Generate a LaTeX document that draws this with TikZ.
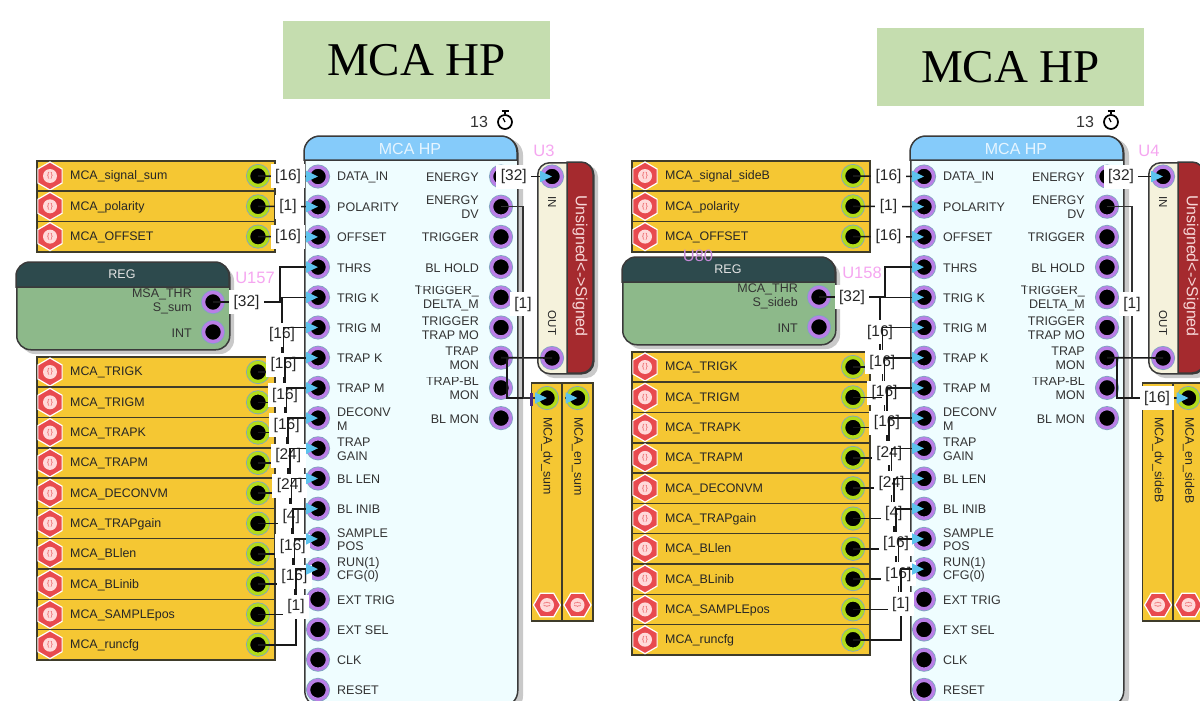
\documentclass[tikz,border=0pt]{standalone}
\usepackage{fontspec}
\setmainfont{Liberation Sans}
\newfontfamily\bannerfont{Liberation Serif}
\usetikzlibrary{arrows.meta,shapes.geometric}
\definecolor{banner}{HTML}{C5DDAF}
\definecolor{srcfill}{HTML}{F5C733}
\definecolor{srcline}{HTML}{3F3C2A}
\definecolor{hexred}{HTML}{E84A4F}
\definecolor{hexpale}{HTML}{FFDADA}
\definecolor{pinpurple}{HTML}{B97FE6}
\definecolor{pinlime}{HTML}{B2DC1A}
\definecolor{pinhalo}{HTML}{7FA6C0}
\definecolor{tipblue}{HTML}{5CC3EE}
\definecolor{hpheader}{HTML}{85CBFA}
\definecolor{hpbody}{HTML}{EFFDFF}
\definecolor{hptitle}{HTML}{E6F5FF}
\definecolor{blockline}{HTML}{3A3A3A}
\definecolor{dropgray}{HTML}{C9C9C9}
\definecolor{regtop}{HTML}{2D4A4D}
\definecolor{regbody}{HTML}{8DB98A}
\definecolor{convbody}{HTML}{F5F2DC}
\definecolor{convred}{HTML}{A52A2E}
\definecolor{convtext}{HTML}{F7D8D8}
\definecolor{unitpink}{HTML}{F5A6F0}
\definecolor{unitdim}{HTML}{C58AD8}
\definecolor{barpurple}{HTML}{4A2A80}
\tikzset{
  bannerbox/.style={fill=banner,minimum width=267pt,minimum height=78pt,inner sep=0pt,
    font=\bannerfont\fontsize{47}{50}\selectfont},
  srcbox/.style={draw=srcline,fill=srcfill,line width=1.5pt,minimum width=238pt,minimum height=30.3pt,inner sep=0pt},
  srctext/.style={anchor=west,inner sep=0pt,text=black!85,font=\fontsize{12.4}{14}\selectfont},
  sinkbox/.style={draw=srcline,fill=srcfill,line width=1.5pt,minimum width=31pt,minimum height=238pt,inner sep=0pt},
  sinktext/.style={srctext,rotate=-90},
  hexrim/.style={regular polygon,regular polygon sides=6,shape border rotate=30,minimum size=28pt,inner sep=0pt,
    fill=hexred,draw=white,line width=1.2pt},
  hexflat/.style={hexrim,shape border rotate=0},
  hexdot/.style={circle,fill=hexpale,minimum size=14pt,inner sep=0pt,text=hexred,font=\fontsize{7}{8}\selectfont},
  pinring/.style={circle,fill=black,minimum size=19pt,inner sep=0pt,line width=3.4pt,
    preaction={draw=pinhalo,line width=5pt}},
  purplepin/.style={pinring,draw=pinpurple},
  greenpin/.style={pinring,draw=pinlime},
  pintext/.style={inner sep=0pt,yshift=-0.7pt,text=black!80,align=left,font=\fontsize{12.5}{13.8}\selectfont},
  pintextr/.style={pintext,align=right,anchor=east},
  wire/.style={line width=1.6pt,draw=black!90},
  thinwire/.style={line width=1.1pt,draw=black!80},
  intip/.style={-{Triangle[length=12pt,width=11pt,color=tipblue]}},
  buslabel/.style={fill=white,inner xsep=4.5pt,inner ysep=0pt,minimum height=24pt,text=black!85,
    font=\fontsize{15.5}{16}\selectfont},
  unitname/.style={inner sep=0pt,text=unitpink,font=\fontsize{16.5}{18}\selectfont},
  hpcase/.style={draw=blockline,fill=hpbody,line width=1.5pt,rounded corners=16pt,anchor=north west,
    minimum width=213pt,minimum height=570pt},
  regcase/.style={draw=blockline,fill=regbody,line width=1.5pt,rounded corners=14pt,anchor=north west,
    minimum width=213pt,minimum height=87pt},
  convcase/.style={draw=blockline,fill=convbody,line width=1.5pt,rounded corners=12pt,anchor=north west,
    minimum width=56pt,minimum height=211pt},
}
\begin{document}
\begin{tikzpicture}[x=1pt,y=-1pt]
  \useasboundingbox (0,0) rectangle (1200,701);
  \clip (0,0) rectangle (1200,701);
  \def\srcrow#1#2#3{
    \node[srcbox] (#1-box) at ({156+\src},{#2}) {};
    \node[hexrim] (#1-hex) at ({50+\src},{#2}) {};
    \node[hexdot] (#1-dot) at (#1-hex) {\{\,\}};
    \node[srctext,yshift=-0.7pt] (#1-txt) at ({70+\src},{#2}) {#3};
    \node[greenpin] (#1-pin) at ({258+\src},{#2}) {};
  }
  % titles
  \node[bannerbox] (a-title) at (416.5,60) {\raisebox{-2pt}{MCA HP}};
  \node[bannerbox] (b-title) at (1010.5,67) {\raisebox{-2pt}{MCA HP}};
  \foreach \side/\dx/\src/\conv/\regdy/\lowy/\busx/\busstep/\thrx/\tail/\regtxt in {
      a/0/0/0/0/372/282/1.55/280/sum/{MSA\_THR\\S\_sum},
      b/606/595/611/-5/367/880/2.3/885/sideB/{MCA\_THR\\S\_sideb}}{
    % hp block
    \fill[dropgray,rounded corners=16pt] ({310+\dx},139) rectangle ({523+\dx},712);
    \node[hpcase] (\side-hp) at ({304+\dx},136) {};
    \draw[blockline,fill=hpheader,line width=1.5pt] ({304+\dx},160) [rounded corners=16pt] -- ({304+\dx},136) -- ({517+\dx},136) [sharp corners] -- ({517+\dx},160) -- cycle;
    \node[inner sep=0pt,text=hptitle,font=\fontsize{16}{18}\selectfont] (\side-hpname) at ({410+\dx},149) {MCA HP};
    \node[inner sep=0pt,font=\fontsize{16}{18}\selectfont,text=black!80] (\side-cnt) at ({479+\dx},122) {13};
    \node[circle,draw=black,line width=1.7pt,minimum size=14pt,inner sep=0pt] (\side-watch) at ({505+\dx},122) {};
    \draw[line width=1.7pt] (\side-watch.north) -- ++(0,-3) ++(-3.5,0) -- ++(7,0);
    \draw[line width=1.2pt] (\side-watch.center) -- ++(-2,-4);
    \foreach \lbl [count=\i from 0] in {DATA\_IN,POLARITY,OFFSET,THRS,TRIG K,TRIG M,TRAP K,TRAP M,{DECONV\\M},{TRAP\\GAIN},BL LEN,BL INIB,{SAMPLE\\POS},{RUN(1)\\CFG(0)},EXT TRIG,EXT SEL,CLK,RESET}{
      \node[purplepin] (\side-in-\i) at ({318+\dx},{176.5+30.2*\i}) {};
      \node[pintext,anchor=west] (\side-intxt-\i) at ({337+\dx},{176.5+30.2*\i}) {\lbl};
    }
    \foreach \lbl [count=\i from 0] in {ENERGY,{ENERGY\\DV},TRIGGER,BL HOLD,{TRIGGER\_\\DELTA\_M},{TRIGGER\\TRAP MO},{TRAP\\MON},{TRAP-BL\\MON},BL MON}{
      \node[purplepin] (\side-out-\i) at ({501+\dx},{176.5+30.2*\i}) {};
      \node[pintextr] (\side-outtxt-\i) at ({479+\dx},{176.5+30.2*\i}) {\lbl};
    }
    % cut tops of the two line names
    \foreach \yy in {188,279,370}{
      \fill[hpbody] ({420+\dx},\yy) rectangle ({482+\dx},{\yy+7});
    }
    % sources
    \srcrow{\side-top-0}{176}{MCA\_signal\_\tail}
    \srcrow{\side-top-1}{206.3}{MCA\_polarity}
    \srcrow{\side-top-2}{236.6}{MCA\_OFFSET}
    \foreach \lbl [count=\i from 0] in {MCA\_TRIGK,MCA\_TRIGM,MCA\_TRAPK,MCA\_TRAPM,MCA\_DECONVM,MCA\_TRAPgain,MCA\_BLlen,MCA\_BLinib,MCA\_SAMPLEpos,MCA\_runcfg}{
      \srcrow{\side-low-\i}{\lowy+30.3*\i}{\lbl}
    }
    % reg
    \fill[dropgray,rounded corners=14pt] ({21+\dx},{267+\regdy}) rectangle ({234+\dx},{354+\regdy});
    \node[regcase] (\side-reg) at ({16+\dx},{262+\regdy}) {};
    \node[pintextr] (\side-regtxt-0) at ({192+\dx},{300.5+\regdy}) {\regtxt};
    \node[pintextr] (\side-regtxt-1) at ({192+\dx},{332+\regdy}) {INT};
    \draw[blockline,fill=regtop,line width=1.5pt] ({16+\dx},{287+\regdy}) [rounded corners=14pt] -- ({16+\dx},{262+\regdy}) -- ({229+\dx},{262+\regdy}) [sharp corners] -- ({229+\dx},{287+\regdy}) -- cycle;
    \node[inner sep=0pt,text=white!90!black,font=\fontsize{12.5}{14}\selectfont] (\side-regname) at ({122+\dx},{274+\regdy}) {REG};
    \node[purplepin] (\side-regpin-0) at ({213+\dx},{302+\regdy}) {};
    \node[purplepin] (\side-regpin-1) at ({213+\dx},{332+\regdy}) {};
    % unsigned converter
    \fill[dropgray,rounded corners=12pt] ({542+\conv},165) rectangle ({598+\conv},378);
    \node[convcase] (\side-conv) at ({537+\conv},162) {};
    \draw[blockline,fill=convred,line width=1.5pt] ({567+\conv},162) [rounded corners=12pt] -- ({593+\conv},162) -- ({593+\conv},373) [sharp corners] -- ({567+\conv},373) -- cycle;
    \node[inner sep=0pt,rotate=-90,text=convtext,font=\fontsize{16}{18}\selectfont] (\side-convname) at ({580+\conv},266) {Unsigned<->Signed};
    \node[inner sep=0pt,rotate=-90,text=black!85,font=\fontsize{11.5}{13}\selectfont] (\side-intxt) at ({552+\conv},202) {IN};
    \node[inner sep=0pt,rotate=-90,text=black!85,font=\fontsize{11.5}{13}\selectfont] (\side-outtxt) at ({552+\conv},323) {OUT};
    \node[purplepin] (\side-convin) at ({552+\conv},176.5) {};
    \node[purplepin] (\side-convout) at ({552+\conv},358) {};
    % sinks
    \foreach \sink/\x in {dv/547,en/577.5}{
      \node[sinkbox] (\side-\sink) at ({\x+\conv},502) {};
      \node[hexflat,minimum size=27pt] (\side-\sink-hex) at ({\x+\conv},605) {};
      \node[hexdot,rotate=90] (\side-\sink-dot) at (\side-\sink-hex) {\{\,\}};
      \node[sinktext] (\side-\sink-txt) at ({\x+\conv},417) {MCA\_\sink\_\tail};
      \node[greenpin] (\side-\sink-pin) at ({\x+\conv},398) {};
    }
    % wires
    \foreach \k/\bits in {0/16,1/1,2/16}{
      \draw[wire,intip] (\side-top-\k-pin.center) -- node[buslabel,midway] (\side-toplbl-\k) {[\bits]} (\side-in-\k.center);
    }
    \draw[wire,intip] (\side-regpin-0.center) -| node[buslabel,pos=.25] (\side-reglbl) {[32]} (\thrx,0 |- \side-in-3.center) -- (\side-in-3.center);
    \foreach \k/\bits [evaluate=\k as \xk using \busx+\busstep*\k] in {0/16,1/16,2/16,3/16,4/24,5/24,6/4,7/16,8/16,9/1}{
      \pgfmathtruncatemacro\j{\k+4}
      \draw[wire,intip] (\side-low-\k-pin.center) -| (\xk,0 |- \side-in-\j.center) -- (\side-in-\j.center);
      \node[buslabel] (\side-lowlbl-\k) at (\xk,{(176.5+30.2*\j+\lowy+30.3*\k)/2}) {[\bits]};
    }
    \draw[wire,intip] (\side-out-0.center) -- node[buslabel,pos=.25] (\side-enlbl) {[32]} (\side-convin.center);
    \draw[wire] (\side-out-6.center) -- (\side-convout.center);
  }
  % outputs, panel a
  \coordinate (a-dvtee) at (523,398);
  \coordinate (a-montee) at (507,358);
  \coordinate (a-entail) at (565,398);
  \draw[thinwire,intip] (a-out-1.center) -| node[buslabel,pos=.755] (a-dvlbl) {[1]} (a-dvtee) -- (a-dv-pin.center);
  \draw[wire] (a-montee) |- (a-dvtee);
  \draw[wire,intip] (a-entail) -- (a-en-pin.center);
  \fill[barpurple] (530,392.5) rectangle (532.5,406);
  % outputs, panel b
  \coordinate (b-dvtee) at (1132,398);
  \coordinate (b-montee) at (1117,358);
  \coordinate (b-lowtee) at (882.3,397.3);
  \draw[wire] (b-low-1-pin.center) -- (b-lowtee);
  \draw[thinwire,intip] (b-out-1.center) -| node[buslabel,pos=.755] (b-dvlbl) {[1]} (b-dvtee) -- (b-dv-pin.center);
  \draw[wire,intip] (b-montee) |- node[buslabel,pos=.78] (b-senlbl) {[16]} (b-en-pin.center);
  % unit names
  \node[unitname] (a-regid) at (255,278) {U157};
  \node[unitname] (b-regid) at (862,273) {U158};
  \node[unitname] (a-convid) at (544,151) {U3};
  \node[unitname] (b-convid) at (1149,151) {U4};
  \node[unitname,text=unitdim] (b-oldid) at (698,256) {U80};
\end{tikzpicture}
\end{document}
